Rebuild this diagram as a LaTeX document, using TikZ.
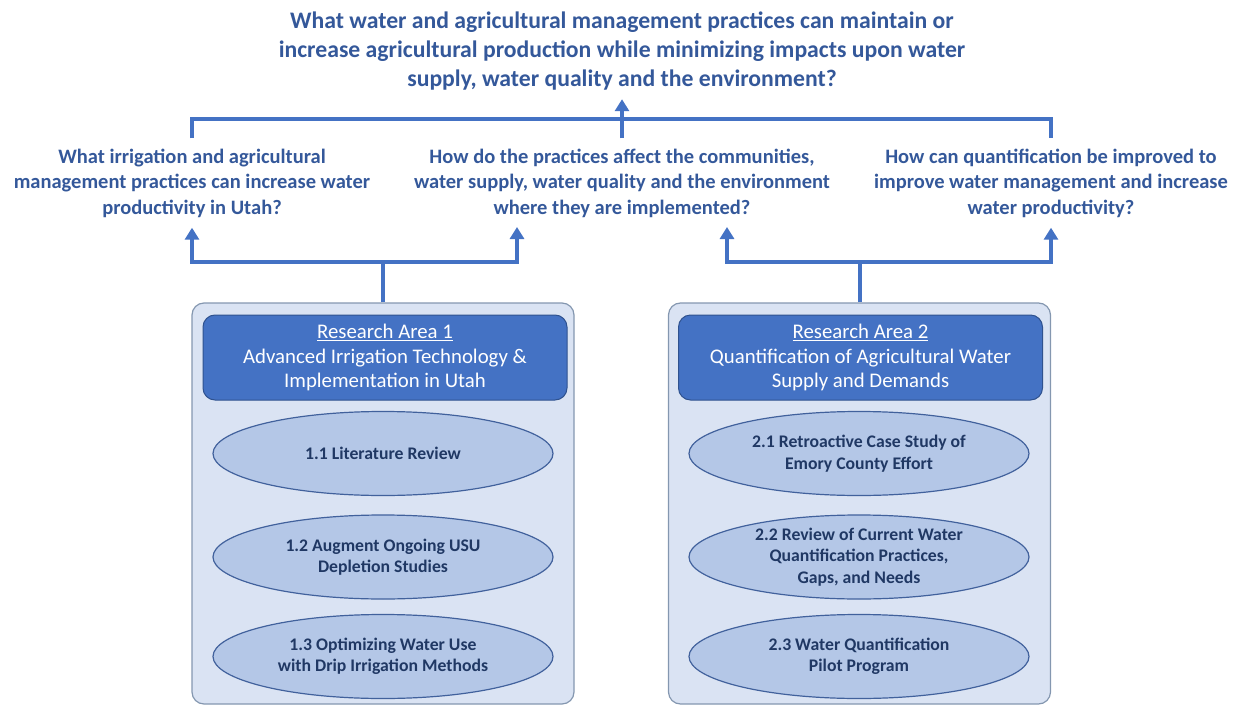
\documentclass[tikz,border=0pt]{standalone}
\usepackage{fontspec}
\setmainfont{Carlito}
\usetikzlibrary{arrows.meta,shapes.geometric,positioning}
\definecolor{qtext}{HTML}{34589A}
\definecolor{link}{HTML}{4472C4}
\definecolor{areafill}{HTML}{DAE3F3}
\definecolor{areaedge}{HTML}{8497B0}
\definecolor{headfill}{HTML}{4472C4}
\definecolor{headedge}{HTML}{2F528F}
\definecolor{taskfill}{HTML}{B4C7E7}
\definecolor{taskedge}{HTML}{41619C}
\definecolor{tasktext}{HTML}{203864}
\tikzset{goal/.style={align=center, text=qtext, font=\fontsize{23.7}{29}\selectfont\bfseries, minimum height=96, inner sep=0}}
\tikzset{quest/.style={align=center, text=qtext, font=\fontsize{20.5}{25.5}\selectfont\bfseries, minimum height=89, inner sep=0}}
\tikzset{areabox/.style={draw=areaedge, fill=areafill, line width=1.2pt, rounded corners=12, minimum width=382, minimum height=401, inner sep=0}}
\tikzset{headbox/.style={draw=headedge, fill=headfill, line width=1pt, rounded corners=12, text=white, align=center, font=\fontsize{20.8}{24.5}\selectfont, minimum width=364, minimum height=85, inner sep=0}}
\tikzset{task/.style={ellipse, draw=taskedge, fill=taskfill, line width=1.2pt, text=tasktext, align=center, font=\fontsize{17.7}{21.5}\selectfont\bfseries, minimum width=340, minimum height=84, inner xsep=0, inner ysep=-16pt}}
\tikzset{wire/.style={draw=link, line width=4pt}}
\tikzset{arr/.style={wire, -{Triangle[width=14pt,length=12pt]}}}

\begin{document}
\begin{tikzpicture}[x=1pt,y=-1pt]
    \useasboundingbox (0,0) rectangle (1237,706);
    % questions
    \node[goal] (goal) at (622,51) {What water and agricultural management practices can maintain or\\increase agricultural production while minimizing impacts upon water\\supply, water quality and the environment?};
    \node[quest] (q1) at (192,183) {What irrigation and agricultural\\management practices can increase water\\productivity in Utah?};
    \node[quest] (q2) at (622,183) {How do the practices affect the communities,\\water supply, water quality and the environment\\where they are implemented?};
    \node[quest] (q3) at (1051,183) {How can quantification be improved to\\improve water management and increase\\water productivity?};
    % research areas
    \node[areabox] (area1) at (383,503.5) {};
    \node[areabox] (area2) at (859.5,503.5) {};
    \node[headbox] (head1) at (385,357.5) {\underline{Research Area 1}\\Advanced Irrigation Technology \&\\Implementation in Utah};
    \node[headbox] (head2) at (860.5,357.5) {\underline{Research Area 2}\\Quantification of Agricultural Water\\Supply and Demands};
    \node[task] (t11) at (383,453.5) {1.1 Literature Review};
    \node[task] (t12) at (383,557) {1.2 Augment Ongoing USU\\Depletion Studies};
    \node[task] (t13) at (383,656.5) {1.3 Optimizing Water Use\\with Drip Irrigation Methods};
    \node[task] (t21) at (859,453.5) {2.1 Retroactive Case Study of\\Emory County Effort};
    \node[task] (t22) at (859,557) {2.2 Review of Current Water\\Quantification Practices,\\Gaps, and Needs};
    \node[task] (t23) at (859,656.5) {2.3 Water Quantification\\Pilot Program};
    % connectors
    \path (area1.north) ++(0,-40) coordinate (fork1);
    \path (area2.north) ++(0,-40) coordinate (fork2);
    \coordinate (in2) at (517,227);
    \coordinate (in3) at (727,227);
    \draw[wire] (q1.north) -- ++(0,-19) -| (q3.north);
    \draw[arr] (q2.north) -- (goal.south);
    \draw[wire] (area1.north) -- (fork1);
    \draw[arr] (fork1) -| (q1.south);
    \draw[arr] (fork1) -| (in2);
    \draw[wire] (area2.north) -- (fork2);
    \draw[arr] (fork2) -| (in3);
    \draw[arr] (fork2) -| (q3.south);
\end{tikzpicture}
\end{document}
